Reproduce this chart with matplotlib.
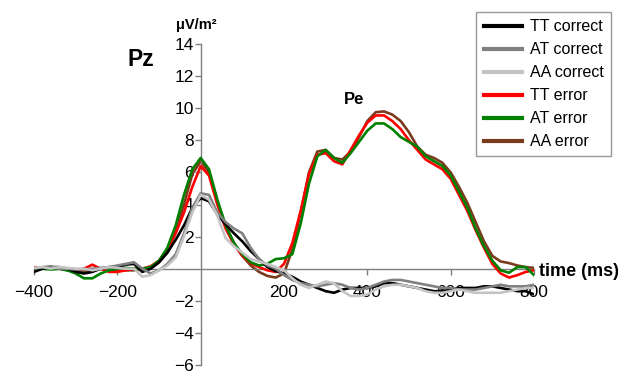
import numpy as np
import matplotlib.pyplot as plt

plt.rcParams['font.family'] = ['Liberation Sans', 'DejaVu Sans']

# time axis (ms), sampled every 20 ms
t = np.arange(-400, 801, 20)

tt_correct = [-0.2, 0.0, 0.1, 0.1, 0.0, -0.2, -0.3, -0.2, 0.0, 0.1,
              0.1, 0.25, 0.3, -0.2, 0.0, 0.4, 1.0, 1.8, 2.7, 3.8,
              4.4, 4.2, 3.4, 2.75, 2.2, 1.7, 1.1, 0.6, 0.1, -0.15,
              -0.3, -0.5, -0.8, -1.0, -1.2, -1.4, -1.5, -1.3, -1.2, -1.2,
              -1.2, -1.1, -0.9, -0.9, -1.0, -1.1, -1.2, -1.3, -1.4, -1.4,
              -1.3, -1.2, -1.2, -1.2, -1.1, -1.1, -1.2, -1.3, -1.4, -1.4,
              -1.6]
at_correct = [0.0, 0.1, 0.15, 0.0, 0.0, -0.05, -0.05, 0.0, 0.05, 0.1,
              0.2, 0.3, 0.4, 0.0, -0.3, -0.1, 0.3, 0.9, 2.2, 3.8,
              4.7, 4.6, 3.5, 2.9, 2.5, 2.2, 1.3, 0.6, 0.2, 0.0,
              -0.4, -0.7, -0.9, -1.0, -1.1, -1.0, -0.9, -1.0, -1.2, -1.3,
              -1.2, -1.0, -0.8, -0.7, -0.7, -0.8, -0.9, -1.0, -1.1, -1.2,
              -1.2, -1.3, -1.3, -1.3, -1.2, -1.1, -1.0, -1.1, -1.1, -1.1,
              -1.0]
aa_correct = [0.05, 0.1, 0.0, 0.1, 0.05, 0.0, 0.0, -0.1, 0.0, 0.1,
              0.05, 0.0, 0.0, -0.5, -0.4, -0.1, 0.2, 0.7, 2.0, 3.5,
              4.6, 4.3, 3.3, 1.9, 1.4, 1.0, 0.6, 0.45, 0.3, 0.1,
              -0.1, -0.6, -1.0, -1.2, -1.0, -0.8, -0.9, -1.4, -1.7, -1.7,
              -1.6, -1.3, -1.1, -1.0, -1.0, -1.1, -1.2, -1.4, -1.5, -1.5,
              -1.4, -1.3, -1.4, -1.5, -1.5, -1.5, -1.5, -1.4, -1.3, -1.2,
              -1.2]
tt_error = [0.1, 0.0, 0.0, 0.05, -0.05, -0.1, 0.0, 0.25, 0.0, -0.2,
            -0.2, -0.1, 0.0, 0.0, 0.15, 0.5, 1.2, 2.2, 3.5, 5.1,
            6.4, 5.8, 4.0, 2.5, 1.5, 0.8, 0.35, 0.1, -0.1, -0.2,
            0.3, 1.6, 3.6, 5.9, 7.1, 7.2, 6.7, 6.5, 7.4, 8.3,
            9.1, 9.55, 9.55, 9.2, 8.7, 8.0, 7.4, 6.8, 6.5, 6.2,
            5.6, 4.6, 3.6, 2.4, 1.3, 0.3, -0.3, -0.55, -0.4, -0.2,
            -0.1]
at_error = [0.0, 0.0, -0.05, 0.0, -0.1, -0.3, -0.6, -0.6, -0.3, -0.1,
            0.0, 0.05, 0.0, 0.0, 0.1, 0.5, 1.3, 2.7, 4.6, 6.2,
            6.9, 6.2, 4.3, 2.7, 1.6, 0.9, 0.4, 0.2, 0.3, 0.6,
            0.65, 0.9, 2.8, 5.3, 7.0, 7.4, 6.9, 6.6, 7.2, 7.9,
            8.6, 9.05, 9.05, 8.7, 8.2, 7.9, 7.6, 7.0, 6.7, 6.4,
            5.8, 4.8, 3.8, 2.5, 1.4, 0.5, -0.1, -0.25, 0.1, 0.1,
            -0.4]
aa_error = [0.0, 0.05, 0.0, 0.0, -0.1, -0.1, -0.2, -0.1, 0.0, -0.1,
            -0.15, -0.1, -0.1, -0.05, 0.0, 0.4, 1.0, 2.3, 4.0, 5.9,
            6.7, 6.0, 4.2, 2.6, 1.6, 0.8, 0.2, -0.2, -0.45, -0.55,
            -0.3, 1.2, 3.5, 6.0, 7.3, 7.4, 6.9, 6.8, 7.3, 8.2,
            9.2, 9.75, 9.8, 9.6, 9.2, 8.5, 7.6, 7.1, 6.9, 6.6,
            6.0, 5.1, 4.1, 2.9, 1.7, 0.8, 0.45, 0.35, 0.2, 0.1,
            0.05]

series = [
    ('TT correct', tt_correct, '#000000', 5),
    ('AT correct', at_correct, '#808080', 6),
    ('AA correct', aa_correct, '#c4c4c4', 7),
    ('TT error', tt_error, '#ff0000', 3),
    ('AT error', at_error, '#008000', 4),
    ('AA error', aa_error, '#7a3b1c', 2),
]

fig = plt.figure(figsize=(6.3, 3.74), dpi=100)
ax = fig.add_axes([34 / 630, 9 / 374, 500 / 630, 321 / 374])

for name, vals, col, z in series:
    ax.plot(t, vals, color=col, lw=1.9, label=name, zorder=z)

ax.set_xlim(-400, 800)
ax.set_ylim(-6, 14)
ax.spines['left'].set_position(('data', 0))
ax.spines['bottom'].set_position(('data', 0))
ax.spines['right'].set_visible(False)
ax.spines['top'].set_visible(False)
for s in ['left', 'bottom']:
    ax.spines[s].set_color('#7f7f7f')
    ax.spines[s].set_linewidth(1.0)

xt = [-400, -200, 200, 400, 600, 800]
yt = [-6, -4, -2, 2, 4, 6, 8, 10, 12, 14]
ax.set_xticks(xt)
ax.set_yticks(yt)
ax.tick_params(axis='both', colors='#7f7f7f', labelcolor='black',
               labelsize=12.5, length=4, width=1.0, direction='out')
ax.tick_params(axis='x', pad=8)
ax.tick_params(axis='y', pad=1)

fig.text(141 / 630, 1 - 60 / 374, 'Pz', fontsize=16.5, fontweight='bold',
         ha='center', va='center')
fig.text(196 / 630, 1 - 25 / 374, 'μV/m²', fontsize=10.5, fontweight='bold',
         ha='center', va='center')
fig.text(354 / 630, 1 - 100 / 374, 'Pe', fontsize=12, fontweight='bold',
         ha='center', va='center')
fig.text(539 / 630, 1 - 271 / 374, 'time (ms)', fontsize=13,
         fontweight='bold', ha='left', va='center')

leg = fig.legend(loc='upper right', bbox_to_anchor=(611 / 630, 1 - 12 / 374),
                 fontsize=11.5, frameon=True, fancybox=False,
                 handlelength=2.4, handletextpad=0.5, labelspacing=0.5,
                 borderpad=0.45, borderaxespad=0)
leg.get_frame().set_edgecolor('#7f7f7f')
leg.get_frame().set_linewidth(1.0)
for line in leg.get_lines():
    line.set_linewidth(3.0)

fig.savefig('out.png', dpi=100)
